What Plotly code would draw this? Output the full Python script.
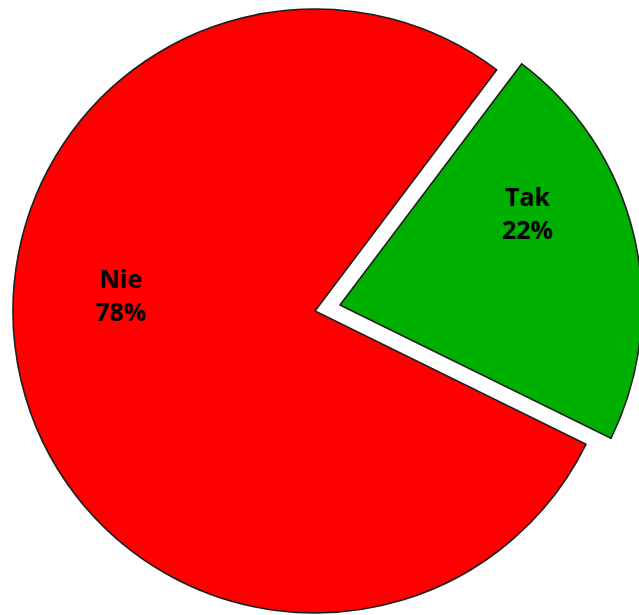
import plotly.graph_objects as go

# Survey answers
labels = ["Tak", "Nie"]
values = [22, 78]
colors = ["#00B000", "#FF0000"]

W, H = 645, 615          # figure size in px (right edge of the pulled slice runs off-screen)
R = 302                  # pie radius, px
CX, CY = 315, 311        # pie centre, px from top-left
PULL_PX = (25, -6)       # offset of the pulled-out "Tak" slice, px
ROT = 37                 # start angle of the first slice, clockwise from 12 o'clock
LABEL_POS = {"Tak": (527, 213), "Nie": (120, 294)}   # label centres, px

TRANSPARENT = "rgba(0,0,0,0)"
EDGE = "#1e1e1e"


def domain_for(cx, cy, r):
    return dict(
        x=[(cx - r) / W, (cx + r) / W],
        y=[1 - (cy + r) / H, 1 - (cy - r) / H],
    )


def slice_trace(show_idx, cx, cy):
    """Pie with only the slice at index show_idx visible."""
    fill = [c if i == show_idx else TRANSPARENT for i, c in enumerate(colors)]
    edge = [EDGE if i == show_idx else TRANSPARENT for i in range(len(labels))]
    return go.Pie(
        labels=labels,
        values=values,
        sort=False,
        direction="clockwise",
        rotation=ROT,
        domain=domain_for(cx, cy, R),
        marker=dict(colors=fill, line=dict(color=edge, width=1.6)),
        textinfo="none",
        hoverinfo="label+percent",
        showlegend=False,
    )


fig = go.Figure()
fig.add_trace(slice_trace(1, CX, CY))                              # "Nie"
fig.add_trace(slice_trace(0, CX + PULL_PX[0], CY + PULL_PX[1]))    # "Tak", pulled out

total = sum(values)
for lab, val in zip(labels, values):
    px, py = LABEL_POS[lab]
    fig.add_annotation(
        x=px / W,
        y=1 - py / H,
        xref="paper",
        yref="paper",
        text=f"{lab}<br>{round(100 * val / total)}%",
        showarrow=False,
        xanchor="center",
        yanchor="middle",
        align="center",
        font=dict(family="Open Sans", size=25, color="#000000", weight=700),
    )

fig.update_layout(
    width=W,
    height=H,
    margin=dict(l=0, r=0, t=0, b=0),
    paper_bgcolor="white",
    plot_bgcolor="white",
    showlegend=False,
)

fig.write_html(
    "out.html",
    config={"displayModeBar": False},
    post_script="document.documentElement.style.overflow='hidden';document.body.style.overflow='hidden';",
)
